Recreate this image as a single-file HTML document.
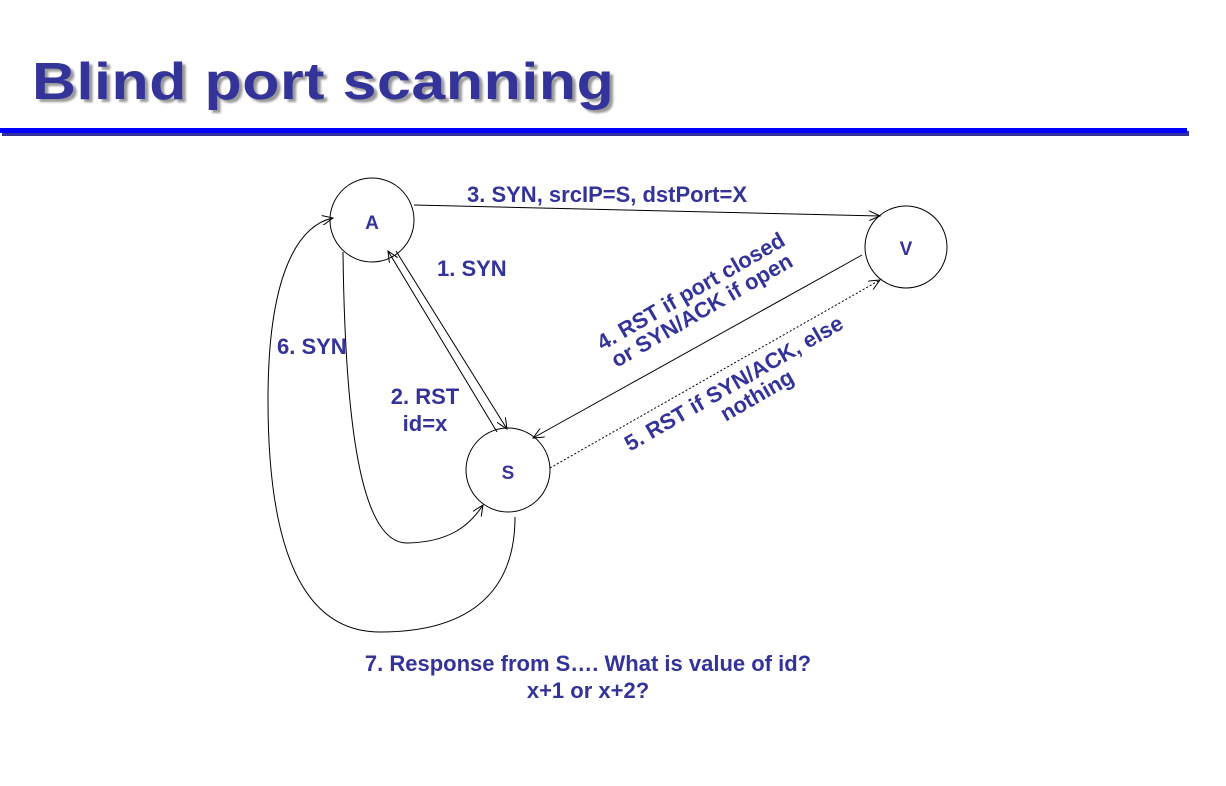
<!DOCTYPE html>
<html><head><meta charset="utf-8"><style>
html,body{margin:0;padding:0;background:#fff;}
body{width:1226px;height:786px;position:relative;overflow:hidden;font-family:"Liberation Sans",Arial,sans-serif;}
.title{position:absolute;left:32px;top:52px;font-size:52px;font-weight:bold;color:#333399;letter-spacing:0.5px;text-shadow:3px 3px 2px #999;transform:scaleX(1.17);transform-origin:left;}
.bar{position:absolute;left:0;top:128px;width:1187px;height:5px;background:#0000ff;box-shadow:2px 3px 0 #333399;}
</style></head><body>
<div class="title">Blind port scanning</div>
<div class="bar"></div>
<svg width="1226" height="786" style="position:absolute;left:0;top:0" font-family="Liberation Sans, Arial, sans-serif" font-weight="bold" fill="#333399">
<defs><marker id="ar" markerWidth="12" markerHeight="10" refX="11" refY="5" orient="auto" markerUnits="userSpaceOnUse"><path d="M0,0 L11,5 L0,10" fill="none" stroke="#000" stroke-width="1"/></marker></defs>
<g fill="none" stroke="#000" stroke-width="1">
<circle cx="372" cy="220" r="42"/>
<circle cx="906" cy="247" r="41"/>
<circle cx="508" cy="470" r="42"/>
<line x1="414" y1="205" x2="880" y2="216" marker-end="url(#ar)"/>
<line x1="497" y1="432" x2="388" y2="251" marker-end="url(#ar)"/>
<line x1="396" y1="251" x2="507" y2="429" marker-end="url(#ar)"/>
<line x1="862" y1="255" x2="533" y2="438" marker-end="url(#ar)"/>
<line x1="550" y1="468" x2="880" y2="280" stroke-dasharray="2,2" marker-end="url(#ar)"/>
<path d="M343,252 C345,420 360,545 408,543 C450,542 470,525 483,505" marker-end="url(#ar)"/>
<path d="M515,517 C515,600 460,632 380,632 C290,632 268,520 268,400 C268,270 300,225 333,218" marker-end="url(#ar)"/>
</g>
<g font-size="22">
<text x="372" y="229" text-anchor="middle" font-size="19">A</text>
<text x="906" y="255" text-anchor="middle" font-size="19">V</text>
<text x="508" y="479" text-anchor="middle" font-size="19">S</text>
<text x="467" y="202">3. SYN, srcIP=S, dstPort=X</text>
<text x="437" y="276">1. SYN</text>
<text x="277" y="354">6. SYN</text>
<text x="425" y="404" text-anchor="middle">2. RST</text>
<text x="425" y="431" text-anchor="middle">id=x</text>
<g transform="translate(697,302) rotate(-30)">
<text x="0" y="-5" text-anchor="middle">4. RST if port closed</text>
<text x="0" y="17" text-anchor="middle">or SYN/ACK if open</text>
</g>
<g transform="translate(740,394) rotate(-30)">
<text x="0" y="-5" text-anchor="middle">5. RST if SYN/ACK, else</text>
<text x="14" y="17" text-anchor="middle">nothing</text>
</g>
<text x="588" y="671" text-anchor="middle">7. Response from S…. What is value of id?</text>
<text x="588" y="698" text-anchor="middle">x+1 or x+2?</text>
</g>
</svg>
</body></html>
